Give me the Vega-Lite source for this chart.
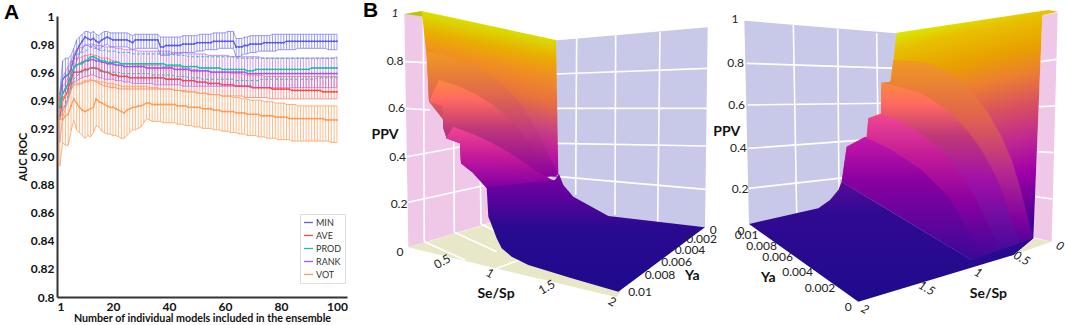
{"$schema":"https://vega.github.io/schema/vega-lite/v6.json","padding":{"left":4,"top":0,"right":0,"bottom":0},"bounds":"flush","spacing":3,"config":{"view":{"stroke":null},"font":"Lato"},
"datasets":{"auc":[
{"n":1,"m":0.94,"ml":0.934,"mh":0.945,"a":0.928,"al":0.91,"ah":0.944,"p":0.935,"pl":0.928,"ph":0.944,"r":0.935,"rl":0.926,"rh":0.944,"v":0.928,"vl":0.893,"vh":0.944},
{"n":2,"m":0.955,"ml":0.942,"mh":0.968,"a":0.94,"al":0.928,"ah":0.95,"p":0.945,"pl":0.933,"ph":0.955,"r":0.945,"rl":0.932,"rh":0.957,"v":0.926,"vl":0.91,"vh":0.94},
{"n":3,"m":0.957,"ml":0.944,"mh":0.97,"a":0.943,"al":0.934,"ah":0.952,"p":0.948,"pl":0.938,"ph":0.958,"r":0.948,"rl":0.936,"rh":0.96,"v":0.929,"vl":0.908,"vh":0.945},
{"n":4,"m":0.958,"ml":0.945,"mh":0.97,"a":0.948,"al":0.94,"ah":0.956,"p":0.952,"pl":0.944,"ph":0.96,"r":0.952,"rl":0.942,"rh":0.964,"v":0.93,"vl":0.908,"vh":0.946},
{"n":5,"m":0.962,"ml":0.95,"mh":0.972,"a":0.955,"al":0.947,"ah":0.963,"p":0.958,"pl":0.95,"ph":0.966,"r":0.958,"rl":0.948,"rh":0.968,"v":0.936,"vl":0.918,"vh":0.95},
{"n":6,"m":0.97,"ml":0.962,"mh":0.977,"a":0.96,"al":0.951,"ah":0.969,"p":0.963,"pl":0.955,"ph":0.971,"r":0.963,"rl":0.953,"rh":0.973,"v":0.941,"vl":0.926,"vh":0.953},
{"n":7,"m":0.975,"ml":0.968,"mh":0.983,"a":0.96,"al":0.951,"ah":0.97,"p":0.965,"pl":0.957,"ph":0.973,"r":0.965,"rl":0.954,"rh":0.976,"v":0.938,"vl":0.919,"vh":0.952},
{"n":8,"m":0.979,"ml":0.973,"mh":0.985,"a":0.96,"al":0.951,"ah":0.97,"p":0.966,"pl":0.959,"ph":0.973,"r":0.966,"rl":0.955,"rh":0.977,"v":0.935,"vl":0.917,"vh":0.952},
{"n":9,"m":0.982,"ml":0.976,"mh":0.987,"a":0.961,"al":0.952,"ah":0.971,"p":0.966,"pl":0.96,"ph":0.974,"r":0.967,"rl":0.956,"rh":0.978,"v":0.933,"vl":0.915,"vh":0.953},
{"n":10,"m":0.985,"ml":0.98,"mh":0.989,"a":0.962,"al":0.953,"ah":0.972,"p":0.968,"pl":0.961,"ph":0.975,"r":0.968,"rl":0.957,"rh":0.979,"v":0.932,"vl":0.913,"vh":0.954},
{"n":11,"m":0.984,"ml":0.979,"mh":0.989,"a":0.962,"al":0.953,"ah":0.972,"p":0.969,"pl":0.961,"ph":0.976,"r":0.968,"rl":0.957,"rh":0.979,"v":0.933,"vl":0.915,"vh":0.954},
{"n":12,"m":0.983,"ml":0.978,"mh":0.988,"a":0.963,"al":0.954,"ah":0.973,"p":0.971,"pl":0.963,"ph":0.978,"r":0.969,"rl":0.958,"rh":0.98,"v":0.934,"vl":0.914,"vh":0.955},
{"n":13,"m":0.984,"ml":0.979,"mh":0.989,"a":0.963,"al":0.954,"ah":0.972,"p":0.971,"pl":0.963,"ph":0.977,"r":0.969,"rl":0.958,"rh":0.98,"v":0.935,"vl":0.917,"vh":0.954},
{"n":14,"m":0.982,"ml":0.977,"mh":0.987,"a":0.963,"al":0.953,"ah":0.972,"p":0.97,"pl":0.962,"ph":0.977,"r":0.968,"rl":0.957,"rh":0.979,"v":0.941,"vl":0.922,"vh":0.954},
{"n":15,"m":0.981,"ml":0.976,"mh":0.986,"a":0.962,"al":0.952,"ah":0.971,"p":0.969,"pl":0.961,"ph":0.976,"r":0.968,"rl":0.956,"rh":0.979,"v":0.939,"vl":0.921,"vh":0.953},
{"n":16,"m":0.983,"ml":0.978,"mh":0.988,"a":0.961,"al":0.951,"ah":0.97,"p":0.968,"pl":0.96,"ph":0.975,"r":0.967,"rl":0.956,"rh":0.979,"v":0.938,"vl":0.918,"vh":0.953},
{"n":17,"m":0.984,"ml":0.979,"mh":0.989,"a":0.96,"al":0.95,"ah":0.97,"p":0.968,"pl":0.961,"ph":0.976,"r":0.967,"rl":0.955,"rh":0.978,"v":0.937,"vl":0.917,"vh":0.953},
{"n":18,"m":0.985,"ml":0.98,"mh":0.989,"a":0.96,"al":0.95,"ah":0.97,"p":0.967,"pl":0.96,"ph":0.975,"r":0.966,"rl":0.955,"rh":0.978,"v":0.936,"vl":0.916,"vh":0.952},
{"n":19,"m":0.984,"ml":0.978,"mh":0.988,"a":0.959,"al":0.949,"ah":0.969,"p":0.967,"pl":0.96,"ph":0.975,"r":0.966,"rl":0.955,"rh":0.978,"v":0.935,"vl":0.916,"vh":0.952},
{"n":20,"m":0.983,"ml":0.978,"mh":0.988,"a":0.958,"al":0.949,"ah":0.968,"p":0.967,"pl":0.96,"ph":0.975,"r":0.966,"rl":0.955,"rh":0.978,"v":0.935,"vl":0.915,"vh":0.952},
{"n":21,"m":0.983,"ml":0.978,"mh":0.988,"a":0.958,"al":0.949,"ah":0.968,"p":0.967,"pl":0.96,"ph":0.975,"r":0.965,"rl":0.954,"rh":0.977,"v":0.934,"vl":0.915,"vh":0.951},
{"n":22,"m":0.983,"ml":0.978,"mh":0.988,"a":0.957,"al":0.948,"ah":0.967,"p":0.967,"pl":0.96,"ph":0.974,"r":0.965,"rl":0.954,"rh":0.977,"v":0.933,"vl":0.914,"vh":0.951},
{"n":23,"m":0.983,"ml":0.978,"mh":0.988,"a":0.957,"al":0.948,"ah":0.966,"p":0.966,"pl":0.959,"ph":0.974,"r":0.965,"rl":0.954,"rh":0.977,"v":0.932,"vl":0.913,"vh":0.95},
{"n":24,"m":0.983,"ml":0.978,"mh":0.988,"a":0.957,"al":0.948,"ah":0.966,"p":0.966,"pl":0.959,"ph":0.974,"r":0.964,"rl":0.953,"rh":0.976,"v":0.931,"vl":0.913,"vh":0.95},
{"n":25,"m":0.983,"ml":0.978,"mh":0.988,"a":0.957,"al":0.948,"ah":0.966,"p":0.966,"pl":0.959,"ph":0.974,"r":0.964,"rl":0.953,"rh":0.976,"v":0.933,"vl":0.915,"vh":0.95},
{"n":26,"m":0.982,"ml":0.977,"mh":0.987,"a":0.956,"al":0.948,"ah":0.966,"p":0.966,"pl":0.959,"ph":0.974,"r":0.964,"rl":0.953,"rh":0.976,"v":0.934,"vl":0.917,"vh":0.95},
{"n":27,"m":0.981,"ml":0.976,"mh":0.986,"a":0.956,"al":0.948,"ah":0.965,"p":0.966,"pl":0.959,"ph":0.973,"r":0.964,"rl":0.952,"rh":0.976,"v":0.935,"vl":0.919,"vh":0.95},
{"n":28,"m":0.983,"ml":0.977,"mh":0.987,"a":0.956,"al":0.948,"ah":0.965,"p":0.966,"pl":0.959,"ph":0.973,"r":0.964,"rl":0.952,"rh":0.976,"v":0.935,"vl":0.919,"vh":0.95},
{"n":29,"m":0.983,"ml":0.977,"mh":0.987,"a":0.956,"al":0.948,"ah":0.965,"p":0.966,"pl":0.959,"ph":0.973,"r":0.964,"rl":0.952,"rh":0.975,"v":0.936,"vl":0.92,"vh":0.95},
{"n":30,"m":0.983,"ml":0.977,"mh":0.987,"a":0.956,"al":0.948,"ah":0.965,"p":0.966,"pl":0.959,"ph":0.973,"r":0.964,"rl":0.952,"rh":0.975,"v":0.936,"vl":0.921,"vh":0.95},
{"n":31,"m":0.983,"ml":0.977,"mh":0.987,"a":0.956,"al":0.948,"ah":0.965,"p":0.966,"pl":0.959,"ph":0.973,"r":0.964,"rl":0.952,"rh":0.975,"v":0.937,"vl":0.924,"vh":0.95},
{"n":32,"m":0.983,"ml":0.977,"mh":0.987,"a":0.956,"al":0.948,"ah":0.965,"p":0.966,"pl":0.959,"ph":0.973,"r":0.963,"rl":0.952,"rh":0.975,"v":0.938,"vl":0.927,"vh":0.95},
{"n":33,"m":0.983,"ml":0.977,"mh":0.987,"a":0.956,"al":0.948,"ah":0.965,"p":0.966,"pl":0.959,"ph":0.973,"r":0.963,"rl":0.952,"rh":0.975,"v":0.938,"vl":0.926,"vh":0.949},
{"n":34,"m":0.983,"ml":0.977,"mh":0.987,"a":0.956,"al":0.948,"ah":0.965,"p":0.966,"pl":0.958,"ph":0.973,"r":0.963,"rl":0.952,"rh":0.975,"v":0.937,"vl":0.925,"vh":0.949},
{"n":35,"m":0.983,"ml":0.977,"mh":0.987,"a":0.956,"al":0.948,"ah":0.965,"p":0.966,"pl":0.958,"ph":0.973,"r":0.963,"rl":0.951,"rh":0.975,"v":0.937,"vl":0.925,"vh":0.949},
{"n":36,"m":0.983,"ml":0.977,"mh":0.987,"a":0.956,"al":0.948,"ah":0.965,"p":0.966,"pl":0.958,"ph":0.973,"r":0.963,"rl":0.951,"rh":0.975,"v":0.937,"vl":0.925,"vh":0.949},
{"n":37,"m":0.978,"ml":0.972,"mh":0.985,"a":0.956,"al":0.948,"ah":0.965,"p":0.966,"pl":0.958,"ph":0.973,"r":0.963,"rl":0.951,"rh":0.975,"v":0.937,"vl":0.925,"vh":0.948},
{"n":38,"m":0.978,"ml":0.972,"mh":0.985,"a":0.956,"al":0.948,"ah":0.964,"p":0.966,"pl":0.958,"ph":0.973,"r":0.963,"rl":0.951,"rh":0.975,"v":0.937,"vl":0.924,"vh":0.948},
{"n":39,"m":0.979,"ml":0.972,"mh":0.985,"a":0.955,"al":0.948,"ah":0.964,"p":0.965,"pl":0.958,"ph":0.973,"r":0.963,"rl":0.951,"rh":0.975,"v":0.937,"vl":0.924,"vh":0.948},
{"n":40,"m":0.979,"ml":0.972,"mh":0.985,"a":0.955,"al":0.948,"ah":0.964,"p":0.965,"pl":0.958,"ph":0.973,"r":0.963,"rl":0.951,"rh":0.975,"v":0.937,"vl":0.924,"vh":0.948},
{"n":41,"m":0.979,"ml":0.973,"mh":0.985,"a":0.955,"al":0.948,"ah":0.964,"p":0.965,"pl":0.958,"ph":0.973,"r":0.963,"rl":0.951,"rh":0.974,"v":0.937,"vl":0.924,"vh":0.948},
{"n":42,"m":0.979,"ml":0.973,"mh":0.985,"a":0.955,"al":0.947,"ah":0.964,"p":0.965,"pl":0.957,"ph":0.972,"r":0.962,"rl":0.951,"rh":0.974,"v":0.937,"vl":0.924,"vh":0.947},
{"n":43,"m":0.979,"ml":0.973,"mh":0.985,"a":0.955,"al":0.947,"ah":0.964,"p":0.965,"pl":0.957,"ph":0.972,"r":0.962,"rl":0.951,"rh":0.974,"v":0.936,"vl":0.923,"vh":0.947},
{"n":44,"m":0.979,"ml":0.973,"mh":0.985,"a":0.955,"al":0.947,"ah":0.964,"p":0.965,"pl":0.957,"ph":0.972,"r":0.962,"rl":0.951,"rh":0.974,"v":0.936,"vl":0.923,"vh":0.947},
{"n":45,"m":0.98,"ml":0.974,"mh":0.986,"a":0.954,"al":0.946,"ah":0.963,"p":0.964,"pl":0.957,"ph":0.972,"r":0.962,"rl":0.95,"rh":0.974,"v":0.936,"vl":0.923,"vh":0.947},
{"n":46,"m":0.98,"ml":0.974,"mh":0.986,"a":0.954,"al":0.946,"ah":0.963,"p":0.964,"pl":0.957,"ph":0.972,"r":0.962,"rl":0.95,"rh":0.974,"v":0.936,"vl":0.922,"vh":0.947},
{"n":47,"m":0.98,"ml":0.974,"mh":0.986,"a":0.954,"al":0.946,"ah":0.963,"p":0.964,"pl":0.956,"ph":0.971,"r":0.962,"rl":0.95,"rh":0.973,"v":0.935,"vl":0.922,"vh":0.946},
{"n":48,"m":0.98,"ml":0.974,"mh":0.986,"a":0.954,"al":0.946,"ah":0.962,"p":0.964,"pl":0.956,"ph":0.971,"r":0.961,"rl":0.95,"rh":0.973,"v":0.935,"vl":0.922,"vh":0.946},
{"n":49,"m":0.98,"ml":0.974,"mh":0.986,"a":0.954,"al":0.946,"ah":0.962,"p":0.964,"pl":0.956,"ph":0.971,"r":0.961,"rl":0.95,"rh":0.973,"v":0.935,"vl":0.921,"vh":0.946},
{"n":50,"m":0.981,"ml":0.975,"mh":0.986,"a":0.953,"al":0.945,"ah":0.962,"p":0.964,"pl":0.956,"ph":0.971,"r":0.961,"rl":0.95,"rh":0.973,"v":0.935,"vl":0.921,"vh":0.946},
{"n":51,"m":0.981,"ml":0.975,"mh":0.987,"a":0.953,"al":0.945,"ah":0.961,"p":0.963,"pl":0.956,"ph":0.971,"r":0.961,"rl":0.95,"rh":0.973,"v":0.935,"vl":0.921,"vh":0.945},
{"n":52,"m":0.981,"ml":0.975,"mh":0.987,"a":0.953,"al":0.945,"ah":0.961,"p":0.963,"pl":0.955,"ph":0.971,"r":0.961,"rl":0.95,"rh":0.973,"v":0.934,"vl":0.92,"vh":0.945},
{"n":53,"m":0.981,"ml":0.976,"mh":0.987,"a":0.953,"al":0.945,"ah":0.961,"p":0.963,"pl":0.955,"ph":0.971,"r":0.961,"rl":0.95,"rh":0.973,"v":0.934,"vl":0.92,"vh":0.945},
{"n":54,"m":0.981,"ml":0.976,"mh":0.987,"a":0.952,"al":0.944,"ah":0.961,"p":0.963,"pl":0.955,"ph":0.971,"r":0.961,"rl":0.95,"rh":0.972,"v":0.934,"vl":0.92,"vh":0.945},
{"n":55,"m":0.981,"ml":0.976,"mh":0.987,"a":0.952,"al":0.944,"ah":0.96,"p":0.963,"pl":0.955,"ph":0.971,"r":0.96,"rl":0.95,"rh":0.972,"v":0.934,"vl":0.92,"vh":0.944},
{"n":56,"m":0.982,"ml":0.976,"mh":0.988,"a":0.952,"al":0.944,"ah":0.96,"p":0.963,"pl":0.955,"ph":0.971,"r":0.96,"rl":0.95,"rh":0.972,"v":0.933,"vl":0.919,"vh":0.944},
{"n":57,"m":0.982,"ml":0.976,"mh":0.988,"a":0.952,"al":0.944,"ah":0.96,"p":0.963,"pl":0.955,"ph":0.971,"r":0.96,"rl":0.95,"rh":0.972,"v":0.933,"vl":0.919,"vh":0.944},
{"n":58,"m":0.982,"ml":0.977,"mh":0.988,"a":0.952,"al":0.944,"ah":0.96,"p":0.963,"pl":0.955,"ph":0.971,"r":0.96,"rl":0.95,"rh":0.972,"v":0.933,"vl":0.919,"vh":0.944},
{"n":59,"m":0.982,"ml":0.977,"mh":0.988,"a":0.951,"al":0.943,"ah":0.96,"p":0.962,"pl":0.955,"ph":0.971,"r":0.96,"rl":0.95,"rh":0.972,"v":0.932,"vl":0.918,"vh":0.943},
{"n":60,"m":0.982,"ml":0.977,"mh":0.988,"a":0.951,"al":0.943,"ah":0.96,"p":0.962,"pl":0.955,"ph":0.971,"r":0.96,"rl":0.95,"rh":0.972,"v":0.932,"vl":0.918,"vh":0.943},
{"n":61,"m":0.982,"ml":0.977,"mh":0.989,"a":0.951,"al":0.943,"ah":0.96,"p":0.962,"pl":0.955,"ph":0.971,"r":0.96,"rl":0.95,"rh":0.972,"v":0.932,"vl":0.918,"vh":0.943},
{"n":62,"m":0.982,"ml":0.977,"mh":0.989,"a":0.951,"al":0.943,"ah":0.959,"p":0.962,"pl":0.955,"ph":0.971,"r":0.96,"rl":0.95,"rh":0.971,"v":0.932,"vl":0.917,"vh":0.943},
{"n":63,"m":0.982,"ml":0.977,"mh":0.989,"a":0.951,"al":0.943,"ah":0.959,"p":0.962,"pl":0.955,"ph":0.971,"r":0.96,"rl":0.95,"rh":0.971,"v":0.932,"vl":0.917,"vh":0.942},
{"n":64,"m":0.978,"ml":0.971,"mh":0.984,"a":0.95,"al":0.943,"ah":0.959,"p":0.962,"pl":0.954,"ph":0.97,"r":0.96,"rl":0.95,"rh":0.971,"v":0.931,"vl":0.917,"vh":0.942},
{"n":65,"m":0.978,"ml":0.971,"mh":0.984,"a":0.95,"al":0.943,"ah":0.959,"p":0.962,"pl":0.954,"ph":0.97,"r":0.96,"rl":0.95,"rh":0.971,"v":0.931,"vl":0.916,"vh":0.942},
{"n":66,"m":0.978,"ml":0.972,"mh":0.984,"a":0.95,"al":0.943,"ah":0.959,"p":0.962,"pl":0.954,"ph":0.97,"r":0.96,"rl":0.95,"rh":0.971,"v":0.931,"vl":0.916,"vh":0.941},
{"n":67,"m":0.979,"ml":0.973,"mh":0.985,"a":0.95,"al":0.942,"ah":0.958,"p":0.962,"pl":0.954,"ph":0.97,"r":0.96,"rl":0.95,"rh":0.971,"v":0.931,"vl":0.916,"vh":0.941},
{"n":68,"m":0.979,"ml":0.973,"mh":0.985,"a":0.95,"al":0.942,"ah":0.958,"p":0.961,"pl":0.954,"ph":0.97,"r":0.959,"rl":0.95,"rh":0.971,"v":0.93,"vl":0.915,"vh":0.941},
{"n":69,"m":0.98,"ml":0.974,"mh":0.986,"a":0.95,"al":0.942,"ah":0.958,"p":0.961,"pl":0.954,"ph":0.97,"r":0.959,"rl":0.949,"rh":0.971,"v":0.93,"vl":0.915,"vh":0.94},
{"n":70,"m":0.98,"ml":0.974,"mh":0.986,"a":0.949,"al":0.942,"ah":0.958,"p":0.961,"pl":0.954,"ph":0.97,"r":0.959,"rl":0.949,"rh":0.971,"v":0.93,"vl":0.915,"vh":0.94},
{"n":71,"m":0.98,"ml":0.974,"mh":0.986,"a":0.949,"al":0.942,"ah":0.958,"p":0.962,"pl":0.954,"ph":0.97,"r":0.959,"rl":0.949,"rh":0.971,"v":0.93,"vl":0.915,"vh":0.94},
{"n":72,"m":0.98,"ml":0.975,"mh":0.986,"a":0.949,"al":0.942,"ah":0.958,"p":0.962,"pl":0.954,"ph":0.97,"r":0.959,"rl":0.949,"rh":0.971,"v":0.93,"vl":0.914,"vh":0.94},
{"n":73,"m":0.98,"ml":0.975,"mh":0.986,"a":0.949,"al":0.942,"ah":0.958,"p":0.962,"pl":0.955,"ph":0.97,"r":0.959,"rl":0.949,"rh":0.97,"v":0.929,"vl":0.914,"vh":0.94},
{"n":74,"m":0.981,"ml":0.975,"mh":0.986,"a":0.949,"al":0.942,"ah":0.957,"p":0.962,"pl":0.955,"ph":0.97,"r":0.959,"rl":0.949,"rh":0.97,"v":0.929,"vl":0.914,"vh":0.939},
{"n":75,"m":0.981,"ml":0.975,"mh":0.986,"a":0.949,"al":0.942,"ah":0.957,"p":0.962,"pl":0.955,"ph":0.97,"r":0.959,"rl":0.949,"rh":0.97,"v":0.929,"vl":0.913,"vh":0.939},
{"n":76,"m":0.981,"ml":0.975,"mh":0.986,"a":0.949,"al":0.941,"ah":0.957,"p":0.962,"pl":0.955,"ph":0.97,"r":0.959,"rl":0.949,"rh":0.97,"v":0.929,"vl":0.913,"vh":0.939},
{"n":77,"m":0.981,"ml":0.975,"mh":0.987,"a":0.948,"al":0.941,"ah":0.957,"p":0.962,"pl":0.955,"ph":0.97,"r":0.959,"rl":0.949,"rh":0.97,"v":0.929,"vl":0.913,"vh":0.939},
{"n":78,"m":0.981,"ml":0.975,"mh":0.987,"a":0.948,"al":0.941,"ah":0.957,"p":0.962,"pl":0.955,"ph":0.97,"r":0.959,"rl":0.949,"rh":0.97,"v":0.928,"vl":0.913,"vh":0.938},
{"n":79,"m":0.981,"ml":0.976,"mh":0.987,"a":0.948,"al":0.941,"ah":0.957,"p":0.962,"pl":0.955,"ph":0.97,"r":0.959,"rl":0.949,"rh":0.97,"v":0.928,"vl":0.912,"vh":0.938},
{"n":80,"m":0.981,"ml":0.976,"mh":0.987,"a":0.948,"al":0.941,"ah":0.957,"p":0.962,"pl":0.955,"ph":0.97,"r":0.959,"rl":0.949,"rh":0.97,"v":0.928,"vl":0.912,"vh":0.938},
{"n":81,"m":0.981,"ml":0.976,"mh":0.987,"a":0.948,"al":0.941,"ah":0.957,"p":0.962,"pl":0.955,"ph":0.97,"r":0.959,"rl":0.949,"rh":0.97,"v":0.928,"vl":0.912,"vh":0.938},
{"n":82,"m":0.982,"ml":0.976,"mh":0.987,"a":0.948,"al":0.941,"ah":0.957,"p":0.962,"pl":0.955,"ph":0.97,"r":0.959,"rl":0.949,"rh":0.97,"v":0.928,"vl":0.912,"vh":0.937},
{"n":83,"m":0.982,"ml":0.976,"mh":0.987,"a":0.948,"al":0.941,"ah":0.957,"p":0.962,"pl":0.955,"ph":0.97,"r":0.959,"rl":0.949,"rh":0.97,"v":0.927,"vl":0.912,"vh":0.937},
{"n":84,"m":0.982,"ml":0.976,"mh":0.987,"a":0.947,"al":0.941,"ah":0.957,"p":0.962,"pl":0.955,"ph":0.97,"r":0.959,"rl":0.949,"rh":0.97,"v":0.927,"vl":0.911,"vh":0.937},
{"n":85,"m":0.982,"ml":0.976,"mh":0.987,"a":0.947,"al":0.941,"ah":0.957,"p":0.962,"pl":0.955,"ph":0.97,"r":0.959,"rl":0.949,"rh":0.97,"v":0.927,"vl":0.911,"vh":0.937},
{"n":86,"m":0.982,"ml":0.977,"mh":0.987,"a":0.947,"al":0.941,"ah":0.957,"p":0.962,"pl":0.955,"ph":0.97,"r":0.959,"rl":0.949,"rh":0.97,"v":0.927,"vl":0.911,"vh":0.936},
{"n":87,"m":0.982,"ml":0.977,"mh":0.987,"a":0.947,"al":0.941,"ah":0.957,"p":0.962,"pl":0.955,"ph":0.97,"r":0.959,"rl":0.949,"rh":0.97,"v":0.927,"vl":0.911,"vh":0.936},
{"n":88,"m":0.982,"ml":0.977,"mh":0.987,"a":0.947,"al":0.941,"ah":0.957,"p":0.962,"pl":0.955,"ph":0.97,"r":0.959,"rl":0.949,"rh":0.97,"v":0.927,"vl":0.911,"vh":0.936},
{"n":89,"m":0.982,"ml":0.977,"mh":0.987,"a":0.947,"al":0.941,"ah":0.957,"p":0.962,"pl":0.955,"ph":0.97,"r":0.959,"rl":0.949,"rh":0.97,"v":0.927,"vl":0.911,"vh":0.936},
{"n":90,"m":0.982,"ml":0.977,"mh":0.987,"a":0.947,"al":0.941,"ah":0.957,"p":0.962,"pl":0.955,"ph":0.97,"r":0.959,"rl":0.949,"rh":0.97,"v":0.927,"vl":0.911,"vh":0.936},
{"n":91,"m":0.982,"ml":0.977,"mh":0.987,"a":0.947,"al":0.941,"ah":0.957,"p":0.963,"pl":0.955,"ph":0.97,"r":0.959,"rl":0.949,"rh":0.97,"v":0.927,"vl":0.911,"vh":0.936},
{"n":92,"m":0.982,"ml":0.977,"mh":0.987,"a":0.947,"al":0.941,"ah":0.957,"p":0.963,"pl":0.955,"ph":0.97,"r":0.959,"rl":0.949,"rh":0.97,"v":0.927,"vl":0.911,"vh":0.936},
{"n":93,"m":0.982,"ml":0.977,"mh":0.987,"a":0.947,"al":0.941,"ah":0.957,"p":0.963,"pl":0.956,"ph":0.97,"r":0.959,"rl":0.949,"rh":0.97,"v":0.927,"vl":0.911,"vh":0.936},
{"n":94,"m":0.982,"ml":0.977,"mh":0.987,"a":0.947,"al":0.941,"ah":0.957,"p":0.963,"pl":0.956,"ph":0.97,"r":0.959,"rl":0.949,"rh":0.97,"v":0.927,"vl":0.911,"vh":0.936},
{"n":95,"m":0.982,"ml":0.977,"mh":0.987,"a":0.946,"al":0.941,"ah":0.957,"p":0.963,"pl":0.956,"ph":0.97,"r":0.959,"rl":0.949,"rh":0.97,"v":0.927,"vl":0.911,"vh":0.936},
{"n":96,"m":0.982,"ml":0.977,"mh":0.987,"a":0.946,"al":0.941,"ah":0.957,"p":0.963,"pl":0.956,"ph":0.97,"r":0.959,"rl":0.949,"rh":0.97,"v":0.926,"vl":0.911,"vh":0.936},
{"n":97,"m":0.982,"ml":0.976,"mh":0.987,"a":0.946,"al":0.941,"ah":0.957,"p":0.963,"pl":0.956,"ph":0.97,"r":0.959,"rl":0.949,"rh":0.97,"v":0.926,"vl":0.911,"vh":0.936},
{"n":98,"m":0.982,"ml":0.976,"mh":0.987,"a":0.946,"al":0.941,"ah":0.957,"p":0.963,"pl":0.956,"ph":0.97,"r":0.959,"rl":0.949,"rh":0.97,"v":0.926,"vl":0.91,"vh":0.936},
{"n":99,"m":0.982,"ml":0.976,"mh":0.987,"a":0.946,"al":0.941,"ah":0.957,"p":0.963,"pl":0.956,"ph":0.97,"r":0.959,"rl":0.949,"rh":0.97,"v":0.926,"vl":0.91,"vh":0.936},
{"n":100,"m":0.982,"ml":0.976,"mh":0.987,"a":0.946,"al":0.941,"ah":0.957,"p":0.963,"pl":0.956,"ph":0.97,"r":0.959,"rl":0.949,"rh":0.971,"v":0.926,"vl":0.91,"vh":0.936}
]},
"hconcat":[
{"width":290,"height":281,"data":{"name":"auc"},
"title":{"text":"A","anchor":"start","frame":"group","dx":-53,"dy":13,"offset":0,"fontSize":21,"fontWeight":"bold","font":"Liberation Sans","color":"#000"},
"resolve":{"axis":{"y":"independent"}},
"encoding":{"x":{"field":"n","type":"quantitative","scale":{"domain":[0,103.6],"nice":false},"axis":{"values":[0,20,40,60,80,100],"labelExpr":"datum.value==0?'1':datum.value","grid":false,"ticks":false,"domainColor":"#333","domainWidth":2,"labelFontWeight":"bold","labelFontSize":12,"labelColor":"#111","labelPadding":4,"labelOverlap":false,"title":"Number of individual models included in the ensemble","titleFontSize":10.7,"titleFontWeight":"bold","titleColor":"#111","titlePadding":1}}},
"layer":[
{"mark":{"type":"rule","color":"#5a5af0","opacity":0.6,"strokeWidth":1},"encoding":{"y":{"field":"ml","type":"quantitative","scale":{"domain":[0.8,1],"nice":false},"axis":{"values":[0.8,0.82,0.84,0.86,0.88,0.9,0.92,0.94,0.96,0.98,1],"labelExpr":"datum.value==0.9?'0.90':datum.value","labelOverlap":false,"labelBound":false,"labelFlush":false,"grid":false,"ticks":false,"domainColor":"#333","domainWidth":2,"labelFontWeight":"bold","labelFontSize":12,"labelColor":"#111","labelPadding":3,"title":"AUC ROC","titleFontSize":11,"titleFontWeight":"bold","titleColor":"#111","titlePadding":2}},"y2":{"field":"mh"}}},
{"mark":{"type":"line","color":"#5a5af0","opacity":0.6,"strokeWidth":1},"encoding":{"y":{"field":"ml","type":"quantitative","axis":null}}},
{"mark":{"type":"line","color":"#5a5af0","opacity":0.6,"strokeWidth":1},"encoding":{"y":{"field":"mh","type":"quantitative","axis":null}}},
{"mark":{"type":"line","strokeWidth":1.3,"point":{"size":4}},"encoding":{"y":{"field":"m","type":"quantitative","axis":null},"color":{"datum":"MIN","scale":{"domain":["MIN","AVE","PROD","RANK","VOT"],"range":["#5a5af0","#ff4a38","#10c8a8","#b050f0","#ff9c55"]},"legend":{"title":null,"orient":"none","legendX":243,"legendY":198,"fillColor":"#fff","strokeColor":"#ddd","padding":3,"labelFontSize":9,"labelColor":"#333","labelOffset":2,"symbolType":"stroke","symbolSize":80,"symbolStrokeWidth":1.3,"rowPadding":2}}}},
{"mark":{"type":"rule","color":"#ff5a48","opacity":0.55,"strokeWidth":1},"encoding":{"y":{"field":"al","type":"quantitative","axis":null},"y2":{"field":"ah"}}},
{"mark":{"type":"line","color":"#ff5a48","opacity":0.6,"strokeWidth":1},"encoding":{"y":{"field":"al","type":"quantitative","axis":null}}},
{"mark":{"type":"line","color":"#ff5a48","opacity":0.6,"strokeWidth":1},"encoding":{"y":{"field":"ah","type":"quantitative","axis":null}}},
{"mark":{"type":"line","strokeWidth":1.3,"point":{"size":4}},"encoding":{"y":{"field":"a","type":"quantitative","axis":null},"color":{"datum":"AVE"}}},
{"mark":{"type":"rule","color":"#b050f0","opacity":0.6,"strokeWidth":1},"encoding":{"y":{"field":"rl","type":"quantitative","axis":null},"y2":{"field":"rh"}}},
{"mark":{"type":"line","color":"#b050f0","opacity":0.6,"strokeWidth":1},"encoding":{"y":{"field":"rl","type":"quantitative","axis":null}}},
{"mark":{"type":"line","color":"#b050f0","opacity":0.6,"strokeWidth":1},"encoding":{"y":{"field":"rh","type":"quantitative","axis":null}}},
{"mark":{"type":"line","strokeWidth":1.3,"point":{"size":4}},"encoding":{"y":{"field":"r","type":"quantitative","axis":null},"color":{"datum":"RANK"}}},
{"mark":{"type":"rule","color":"#ff9c55","opacity":0.7,"strokeWidth":1},"encoding":{"y":{"field":"vl","type":"quantitative","axis":null},"y2":{"field":"vh"}}},
{"mark":{"type":"line","color":"#ff9c55","opacity":0.8,"strokeWidth":1},"encoding":{"y":{"field":"vl","type":"quantitative","axis":null}}},
{"mark":{"type":"line","color":"#ff9c55","opacity":0.8,"strokeWidth":1},"encoding":{"y":{"field":"vh","type":"quantitative","axis":null}}},
{"mark":{"type":"line","strokeWidth":1.3,"point":{"size":4}},"encoding":{"y":{"field":"v","type":"quantitative","axis":null},"color":{"datum":"VOT"}}},
{"mark":{"type":"line","color":"#10c8a8","opacity":0.9,"strokeWidth":1,"strokeDash":[3,2]},"encoding":{"y":{"field":"pl","type":"quantitative","axis":null}}},
{"mark":{"type":"line","color":"#10c8a8","opacity":0.9,"strokeWidth":1,"strokeDash":[3,2]},"encoding":{"y":{"field":"ph","type":"quantitative","axis":null}}},
{"mark":{"type":"line","strokeWidth":1.3,"point":{"size":4}},"encoding":{"y":{"field":"p","type":"quantitative","axis":null},"color":{"datum":"PROD"}}}
]
},
{"width":352,"height":309,
"encoding":{"x":{"field":"u","type":"quantitative","scale":{"domain":[-15,1041],"nice":false},"axis":null},"y":{"field":"w","type":"quantitative","scale":{"domain":[975,48],"nice":false},"axis":null}},
"layer":[
{"data":{"values":[{"i":1,"u":148,"w":42},{"i":2,"u":205,"w":42},{"i":3,"u":400,"w":540},{"i":4,"u":405,"w":668},{"i":5,"u":160,"w":742}]},"mark":{"type":"line","fill":"#efc8e8","stroke":null},"encoding":{"order":{"field":"i"}}},
{"data":{"values":[{"i":1,"u":590,"w":122},{"i":2,"u":1058,"w":82},{"i":3,"u":1050,"w":682},{"i":4,"u":760,"w":655},{"i":5,"u":655,"w":600},{"i":6,"u":620,"w":575},{"i":7,"u":590,"w":575}]},"mark":{"type":"line","fill":"#c8c8e8","stroke":null},"encoding":{"order":{"field":"i"}}},
{"data":{"values":[{"i":1,"u":160,"w":742},{"i":2,"u":410,"w":668},{"i":3,"u":800,"w":870},{"i":4,"u":785,"w":892}]},"mark":{"type":"line","fill":"#e8e8c8","stroke":null},"encoding":{"order":{"field":"i"}}},
{"data":{"values":[{"u":148,"w":185,"u2":215,"w2":188},{"u":148,"w":325,"u2":225,"w2":330},{"u":155,"w":470,"u2":318,"w2":440},{"u":160,"w":607,"u2":395,"w2":555},{"u":205,"w":50,"u2":208,"w2":725},{"u":296,"w":395,"u2":298,"w2":697},{"u":376,"w":520,"u2":378,"w2":672},{"u":603,"w":222,"u2":1058,"w2":205},{"u":605,"w":325,"u2":1055,"w2":325},{"u":605,"w":430,"u2":1055,"w2":438},{"u":612,"w":530,"u2":1052,"w2":568},{"u":665,"w":115,"u2":662,"w2":585},{"u":782,"w":105,"u2":780,"w2":645},{"u":915,"w":95,"u2":908,"w2":668},{"u":208,"w":725,"u2":330,"w2":780},{"u":298,"w":697,"u2":425,"w2":755},{"u":378,"w":672,"u2":425,"w2":695},{"u":405,"w":812,"u2":500,"w2":778}]},"mark":{"type":"rule","color":"#fff","strokeWidth":1.6},"encoding":{"x2":{"field":"u2"},"y2":{"field":"w2"}}},
{"data":{"values":[{"i":1,"u":148,"w":42},{"i":2,"u":200,"w":33},{"i":3,"u":210,"w":50}]},"mark":{"type":"line","fill":"#b8c800","stroke":null},"encoding":{"order":{"field":"i"}}},
{"data":{"values":[{"i":1,"u":200,"w":33},{"i":2,"u":603,"w":120},{"i":3,"u":610,"w":525},{"i":4,"u":395,"w":560},{"i":5,"u":395,"w":525},{"i":6,"u":350,"w":515},{"i":7,"u":318,"w":490},{"i":8,"u":315,"w":430},{"i":9,"u":275,"w":415},{"i":10,"u":265,"w":385},{"i":11,"u":262,"w":318},{"i":12,"u":222,"w":305},{"i":13,"u":215,"w":170}]},"mark":{"type":"line","stroke":null,"fill":{"gradient":"linear","x1":0.58,"y1":0,"x2":0.42,"y2":1,"stops":[{"offset":0.09,"color":"#d8e000"},{"offset":0.2,"color":"#e8b000"},{"offset":0.3,"color":"#f09020"},{"offset":0.45,"color":"#e87040"},{"offset":0.6,"color":"#c84480"},{"offset":0.75,"color":"#b815a0"},{"offset":0.9,"color":"#8800a0"},{"offset":1,"color":"#6a00a0"}]}},"encoding":{"order":{"field":"i"}}},
{"data":{"values":[{"i":1,"u":215,"w":155},{"i":2,"u":270,"w":165},{"i":3,"u":330,"w":185},{"i":4,"u":380,"w":210},{"i":5,"u":430,"w":240},{"i":6,"u":475,"w":285},{"i":7,"u":510,"w":330},{"i":8,"u":560,"w":420},{"i":9,"u":608,"w":520},{"i":10,"u":395,"w":525},{"i":11,"u":222,"w":305}]},"mark":{"type":"line","stroke":null,"fill":{"gradient":"linear","x1":0,"y1":0,"x2":0,"y2":1,"stops":[{"offset":0,"color":"#f09a20"},{"offset":0.35,"color":"#e0684c"},{"offset":0.65,"color":"#c03880"},{"offset":1,"color":"#8a00a0"}]}},"encoding":{"order":{"field":"i"}}},
{"data":{"values":[{"i":1,"u":252,"w":240},{"i":2,"u":310,"w":258},{"i":3,"u":360,"w":282},{"i":4,"u":410,"w":312},{"i":5,"u":450,"w":345},{"i":6,"u":495,"w":390},{"i":7,"u":530,"w":435},{"i":8,"u":570,"w":485},{"i":9,"u":608,"w":530},{"i":10,"u":395,"w":525},{"i":11,"u":350,"w":515},{"i":12,"u":318,"w":490},{"i":13,"u":315,"w":430},{"i":14,"u":275,"w":415},{"i":15,"u":265,"w":385},{"i":16,"u":262,"w":318},{"i":17,"u":222,"w":305},{"i":18,"u":235,"w":275}]},"mark":{"type":"line","stroke":null,"fill":{"gradient":"linear","x1":0,"y1":0,"x2":0,"y2":1,"stops":[{"offset":0,"color":"#f88a40"},{"offset":0.2,"color":"#ff6a60"},{"offset":0.5,"color":"#c03878"},{"offset":1,"color":"#8a00a0"}]}},"encoding":{"order":{"field":"i"}}},
{"data":{"values":[{"i":1,"u":295,"w":380},{"i":2,"u":360,"w":405},{"i":3,"u":410,"w":428},{"i":4,"u":450,"w":450},{"i":5,"u":500,"w":482},{"i":6,"u":540,"w":510},{"i":7,"u":610,"w":550},{"i":8,"u":395,"w":530},{"i":9,"u":350,"w":515},{"i":10,"u":318,"w":490},{"i":11,"u":315,"w":430},{"i":12,"u":272,"w":415}]},"mark":{"type":"line","stroke":null,"fill":{"gradient":"linear","x1":0,"y1":0,"x2":0,"y2":1,"stops":[{"offset":0,"color":"#f04890"},{"offset":0.5,"color":"#c81c98"},{"offset":1,"color":"#8a00a0"}]}},"encoding":{"order":{"field":"i"}}},
{"data":{"values":[{"i":1,"u":320,"w":470},{"i":2,"u":400,"w":480},{"i":3,"u":500,"w":520},{"i":4,"u":610,"w":560},{"i":5,"u":395,"w":565},{"i":6,"u":350,"w":515}]},"mark":{"type":"line","stroke":null,"fill":{"gradient":"linear","x1":0,"y1":0,"x2":0,"y2":1,"stops":[{"offset":0,"color":"#c818a0"},{"offset":1,"color":"#7c00a0"}]}},"encoding":{"order":{"field":"i"}}},
{"data":{"values":[{"i":1,"u":395,"w":562},{"i":2,"u":600,"w":540},{"i":3,"u":612,"w":522},{"i":4,"u":625,"w":555},{"i":5,"u":655,"w":590},{"i":6,"u":760,"w":648},{"i":7,"u":1050,"w":682},{"i":8,"u":790,"w":875},{"i":9,"u":650,"w":835},{"i":10,"u":520,"w":795},{"i":11,"u":470,"w":770},{"i":12,"u":440,"w":745},{"i":13,"u":425,"w":715},{"i":14,"u":412,"w":680},{"i":15,"u":400,"w":650}]},"mark":{"type":"line","stroke":null,"fill":{"gradient":"linear","x1":0,"y1":0,"x2":0,"y2":1,"stops":[{"offset":0,"color":"#7c00a0"},{"offset":0.2,"color":"#5a039c"},{"offset":0.45,"color":"#2a0a90"},{"offset":1,"color":"#1f0a8c"}]}},"encoding":{"order":{"field":"i"}}},
{"data":{"values":[{"u":120,"w":183,"t":"0.8"},{"u":125,"w":325,"t":"0.6"},{"u":128,"w":470,"t":"0.4"},{"u":132,"w":612,"t":"0.2"},{"u":135,"w":755,"t":"0"},{"u":1075,"w":690,"t":"0"},{"u":1040,"w":716,"t":"0.002"},{"u":1005,"w":750,"t":"0.004"},{"u":965,"w":785,"t":"0.006"},{"u":915,"w":825,"t":"0.008"},{"u":855,"w":875,"t":"0.01"}]},"mark":{"type":"text","fontSize":12,"color":"#222"},"encoding":{"text":{"field":"t"}}},
{"data":{"values":[{"u":120,"w":40,"t":"1"}]},"mark":{"type":"text","fontSize":12,"color":"#222","fontStyle":"italic"},"encoding":{"text":{"field":"t"}}},
{"data":{"values":[{"u":262,"w":785,"t":"0.5"},{"u":575,"w":862,"t":"1.5"}]},"mark":{"type":"text","fontSize":12,"color":"#222","angle":-30},"encoding":{"text":{"field":"t"}}},
{"data":{"values":[{"u":405,"w":820,"t":"1"},{"u":772,"w":905,"t":"2"}]},"mark":{"type":"text","fontSize":12,"color":"#222","angle":30},"encoding":{"text":{"field":"t"}}},
{"data":{"values":[{"u":90,"w":405,"t":"PPV"},{"u":423,"w":882,"t":"Se/Sp"},{"u":1012,"w":828,"t":"Ya"}]},"mark":{"type":"text","fontSize":14,"fontWeight":"bold","color":"#111"},"encoding":{"text":{"field":"t"}}},
{"data":{"values":[{"u":47,"w":34,"t":"B"}]},"mark":{"type":"text","fontSize":21,"fontWeight":"bold","color":"#000","font":"Liberation Sans"},"encoding":{"text":{"field":"t"}}}
]},
{"width":360,"height":309,
"encoding":{"x":{"field":"u","type":"quantitative","scale":{"domain":[0,1080],"nice":false},"axis":null},"y":{"field":"w","type":"quantitative","scale":{"domain":[975,48],"nice":false},"axis":null}},
"layer":[
{"data":{"values":[{"i":1,"u":118,"w":62},{"i":2,"u":600,"w":102},{"i":3,"u":600,"w":400},{"i":4,"u":500,"w":500},{"i":5,"u":420,"w":600},{"i":6,"u":375,"w":630},{"i":7,"u":340,"w":640},{"i":8,"u":132,"w":672}]},"mark":{"type":"line","fill":"#c8c8e8","stroke":null},"encoding":{"order":{"field":"i"}}},
{"data":{"values":[{"i":1,"u":1012,"w":45},{"i":2,"u":1058,"w":38},{"i":3,"u":1040,"w":725},{"i":4,"u":985,"w":712}]},"mark":{"type":"line","fill":"#efc8e8","stroke":null},"encoding":{"order":{"field":"i"}}},
{"data":{"values":[{"i":1,"u":985,"w":715},{"i":2,"u":1040,"w":725},{"i":3,"u":925,"w":765}]},"mark":{"type":"line","fill":"#e8e8c8","stroke":null},"encoding":{"order":{"field":"i"}}},
{"data":{"values":[{"u":125,"w":190,"u2":600,"w2":206},{"u":128,"w":315,"u2":600,"w2":309},{"u":130,"w":445,"u2":500,"w2":418},{"u":132,"w":565,"u2":420,"w2":533},{"u":265,"w":75,"u2":275,"w2":640},{"u":398,"w":88,"u2":402,"w2":600},{"u":515,"w":100,"u2":520,"w2":480},{"u":1005,"w":185,"u2":1055,"w2":178},{"u":1000,"w":320,"u2":1050,"w2":318},{"u":995,"w":455,"u2":1045,"w2":458},{"u":990,"w":590,"u2":1042,"w2":597}]},"mark":{"type":"rule","color":"#fff","strokeWidth":1.6},"encoding":{"x2":{"field":"u2"},"y2":{"field":"w2"}}},
{"data":{"values":[{"i":1,"u":575,"w":98},{"i":2,"u":1030,"w":30},{"i":3,"u":1060,"w":35},{"i":4,"u":1012,"w":45},{"i":5,"u":985,"w":715},{"i":6,"u":925,"w":765},{"i":7,"u":800,"w":780},{"i":8,"u":410,"w":545},{"i":9,"u":425,"w":440},{"i":10,"u":485,"w":410},{"i":11,"u":490,"w":355},{"i":12,"u":528,"w":340},{"i":13,"u":530,"w":248},{"i":14,"u":558,"w":245}]},"mark":{"type":"line","stroke":null,"fill":{"gradient":"linear","x1":0.4,"y1":0,"x2":0.607,"y2":1,"stops":[{"offset":0.06,"color":"#d8e800"},{"offset":0.12,"color":"#e8c000"},{"offset":0.237,"color":"#e8a000"},{"offset":0.33,"color":"#ec8030"},{"offset":0.454,"color":"#d85060"},{"offset":0.58,"color":"#c02890"},{"offset":0.71,"color":"#a000a8"},{"offset":0.85,"color":"#600098"},{"offset":0.96,"color":"#2a0a90"}]}},"encoding":{"order":{"field":"i"}}},
{"data":{"values":[{"i":1,"u":565,"w":180},{"i":2,"u":620,"w":182},{"i":3,"u":680,"w":190},{"i":4,"u":730,"w":218},{"i":5,"u":780,"w":250},{"i":6,"u":815,"w":295},{"i":7,"u":850,"w":340},{"i":8,"u":890,"w":410},{"i":9,"u":920,"w":480},{"i":10,"u":945,"w":560},{"i":11,"u":960,"w":620},{"i":12,"u":985,"w":715},{"i":13,"u":800,"w":780},{"i":14,"u":528,"w":340},{"i":15,"u":530,"w":248},{"i":16,"u":556,"w":245}]},"mark":{"type":"line","stroke":null,"fill":{"gradient":"linear","x1":0,"y1":0,"x2":0,"y2":1,"stops":[{"offset":0,"color":"#f09a20"},{"offset":0.3,"color":"#e06050"},{"offset":0.55,"color":"#b82a90"},{"offset":0.8,"color":"#8000a0"},{"offset":1,"color":"#2a0a90"}]}},"encoding":{"order":{"field":"i"}}},
{"data":{"values":[{"i":1,"u":530,"w":248},{"i":2,"u":560,"w":255},{"i":3,"u":640,"w":275},{"i":4,"u":690,"w":305},{"i":5,"u":740,"w":340},{"i":6,"u":790,"w":395},{"i":7,"u":830,"w":450},{"i":8,"u":865,"w":515},{"i":9,"u":890,"w":570},{"i":10,"u":950,"w":745},{"i":11,"u":800,"w":780},{"i":12,"u":528,"w":340}]},"mark":{"type":"line","stroke":null,"fill":{"gradient":"linear","x1":0,"y1":0,"x2":0,"y2":1,"stops":[{"offset":0,"color":"#f88a40"},{"offset":0.12,"color":"#ff6a60"},{"offset":0.3,"color":"#c03878"},{"offset":0.55,"color":"#a010a8"},{"offset":1,"color":"#3a0898"}]}},"encoding":{"order":{"field":"i"}}},
{"data":{"values":[{"i":1,"u":490,"w":355},{"i":2,"u":530,"w":342},{"i":3,"u":590,"w":365},{"i":4,"u":640,"w":395},{"i":5,"u":690,"w":435},{"i":6,"u":730,"w":470},{"i":7,"u":770,"w":530},{"i":8,"u":810,"w":590},{"i":9,"u":880,"w":740},{"i":10,"u":800,"w":780},{"i":11,"u":485,"w":410}]},"mark":{"type":"line","stroke":null,"fill":{"gradient":"linear","x1":0,"y1":0,"x2":0,"y2":1,"stops":[{"offset":0,"color":"#f04890"},{"offset":0.3,"color":"#c01898"},{"offset":0.6,"color":"#8a00a0"},{"offset":1,"color":"#3a0898"}]}},"encoding":{"order":{"field":"i"}}},
{"data":{"values":[{"i":1,"u":425,"w":440},{"i":2,"u":480,"w":410},{"i":3,"u":560,"w":450},{"i":4,"u":650,"w":510},{"i":5,"u":730,"w":590},{"i":6,"u":820,"w":740},{"i":7,"u":800,"w":780},{"i":8,"u":410,"w":545}]},"mark":{"type":"line","stroke":null,"fill":{"gradient":"linear","x1":0,"y1":0,"x2":0,"y2":1,"stops":[{"offset":0,"color":"#c818a8"},{"offset":0.35,"color":"#8a00a0"},{"offset":1,"color":"#3a0898"}]}},"encoding":{"order":{"field":"i"}}},
{"data":{"values":[{"i":1,"u":132,"w":672},{"i":2,"u":340,"w":625},{"i":3,"u":375,"w":600},{"i":4,"u":400,"w":570},{"i":5,"u":410,"w":545},{"i":6,"u":600,"w":660},{"i":7,"u":800,"w":780},{"i":8,"u":985,"w":715},{"i":9,"u":925,"w":765},{"i":10,"u":460,"w":905}]},"mark":{"type":"line","stroke":null,"fill":{"gradient":"linear","x1":0,"y1":0,"x2":0,"y2":1,"stops":[{"offset":0,"color":"#5a0a9a"},{"offset":0.25,"color":"#300a92"},{"offset":1,"color":"#1f0a8c"}]}},"encoding":{"order":{"field":"i"}}},
{"data":{"values":[{"u":90,"w":58,"t":"1"},{"u":92,"w":188,"t":"0.8"},{"u":95,"w":316,"t":"0.6"},{"u":100,"w":445,"t":"0.4"},{"u":105,"w":568,"t":"0.2"},{"u":108,"w":692,"t":"0"},{"u":125,"w":705,"t":"0.01"},{"u":170,"w":738,"t":"0.008"},{"u":218,"w":772,"t":"0.006"},{"u":278,"w":815,"t":"0.004"},{"u":345,"w":865,"t":"0.002"},{"u":430,"w":922,"t":"0"}]},"mark":{"type":"text","fontSize":12,"color":"#222"},"encoding":{"text":{"field":"t"}}},
{"data":{"values":[{"u":480,"w":928,"t":"2"},{"u":665,"w":865,"t":"1.5"},{"u":820,"w":818,"t":"1"},{"u":950,"w":775,"t":"0.5"},{"u":1065,"w":738,"t":"0"}]},"mark":{"type":"text","fontSize":12,"color":"#222","angle":30,"fontStyle":"italic"},"encoding":{"text":{"field":"t"}}},
{"data":{"values":[{"u":65,"w":397,"t":"PPV"},{"u":190,"w":835,"t":"Ya"},{"u":850,"w":882,"t":"Se/Sp"}]},"mark":{"type":"text","fontSize":14,"fontWeight":"bold","color":"#111"},"encoding":{"text":{"field":"t"}}}
]}
],
"resolve":{"scale":{"x":"independent","y":"independent","color":"independent"}}
}
